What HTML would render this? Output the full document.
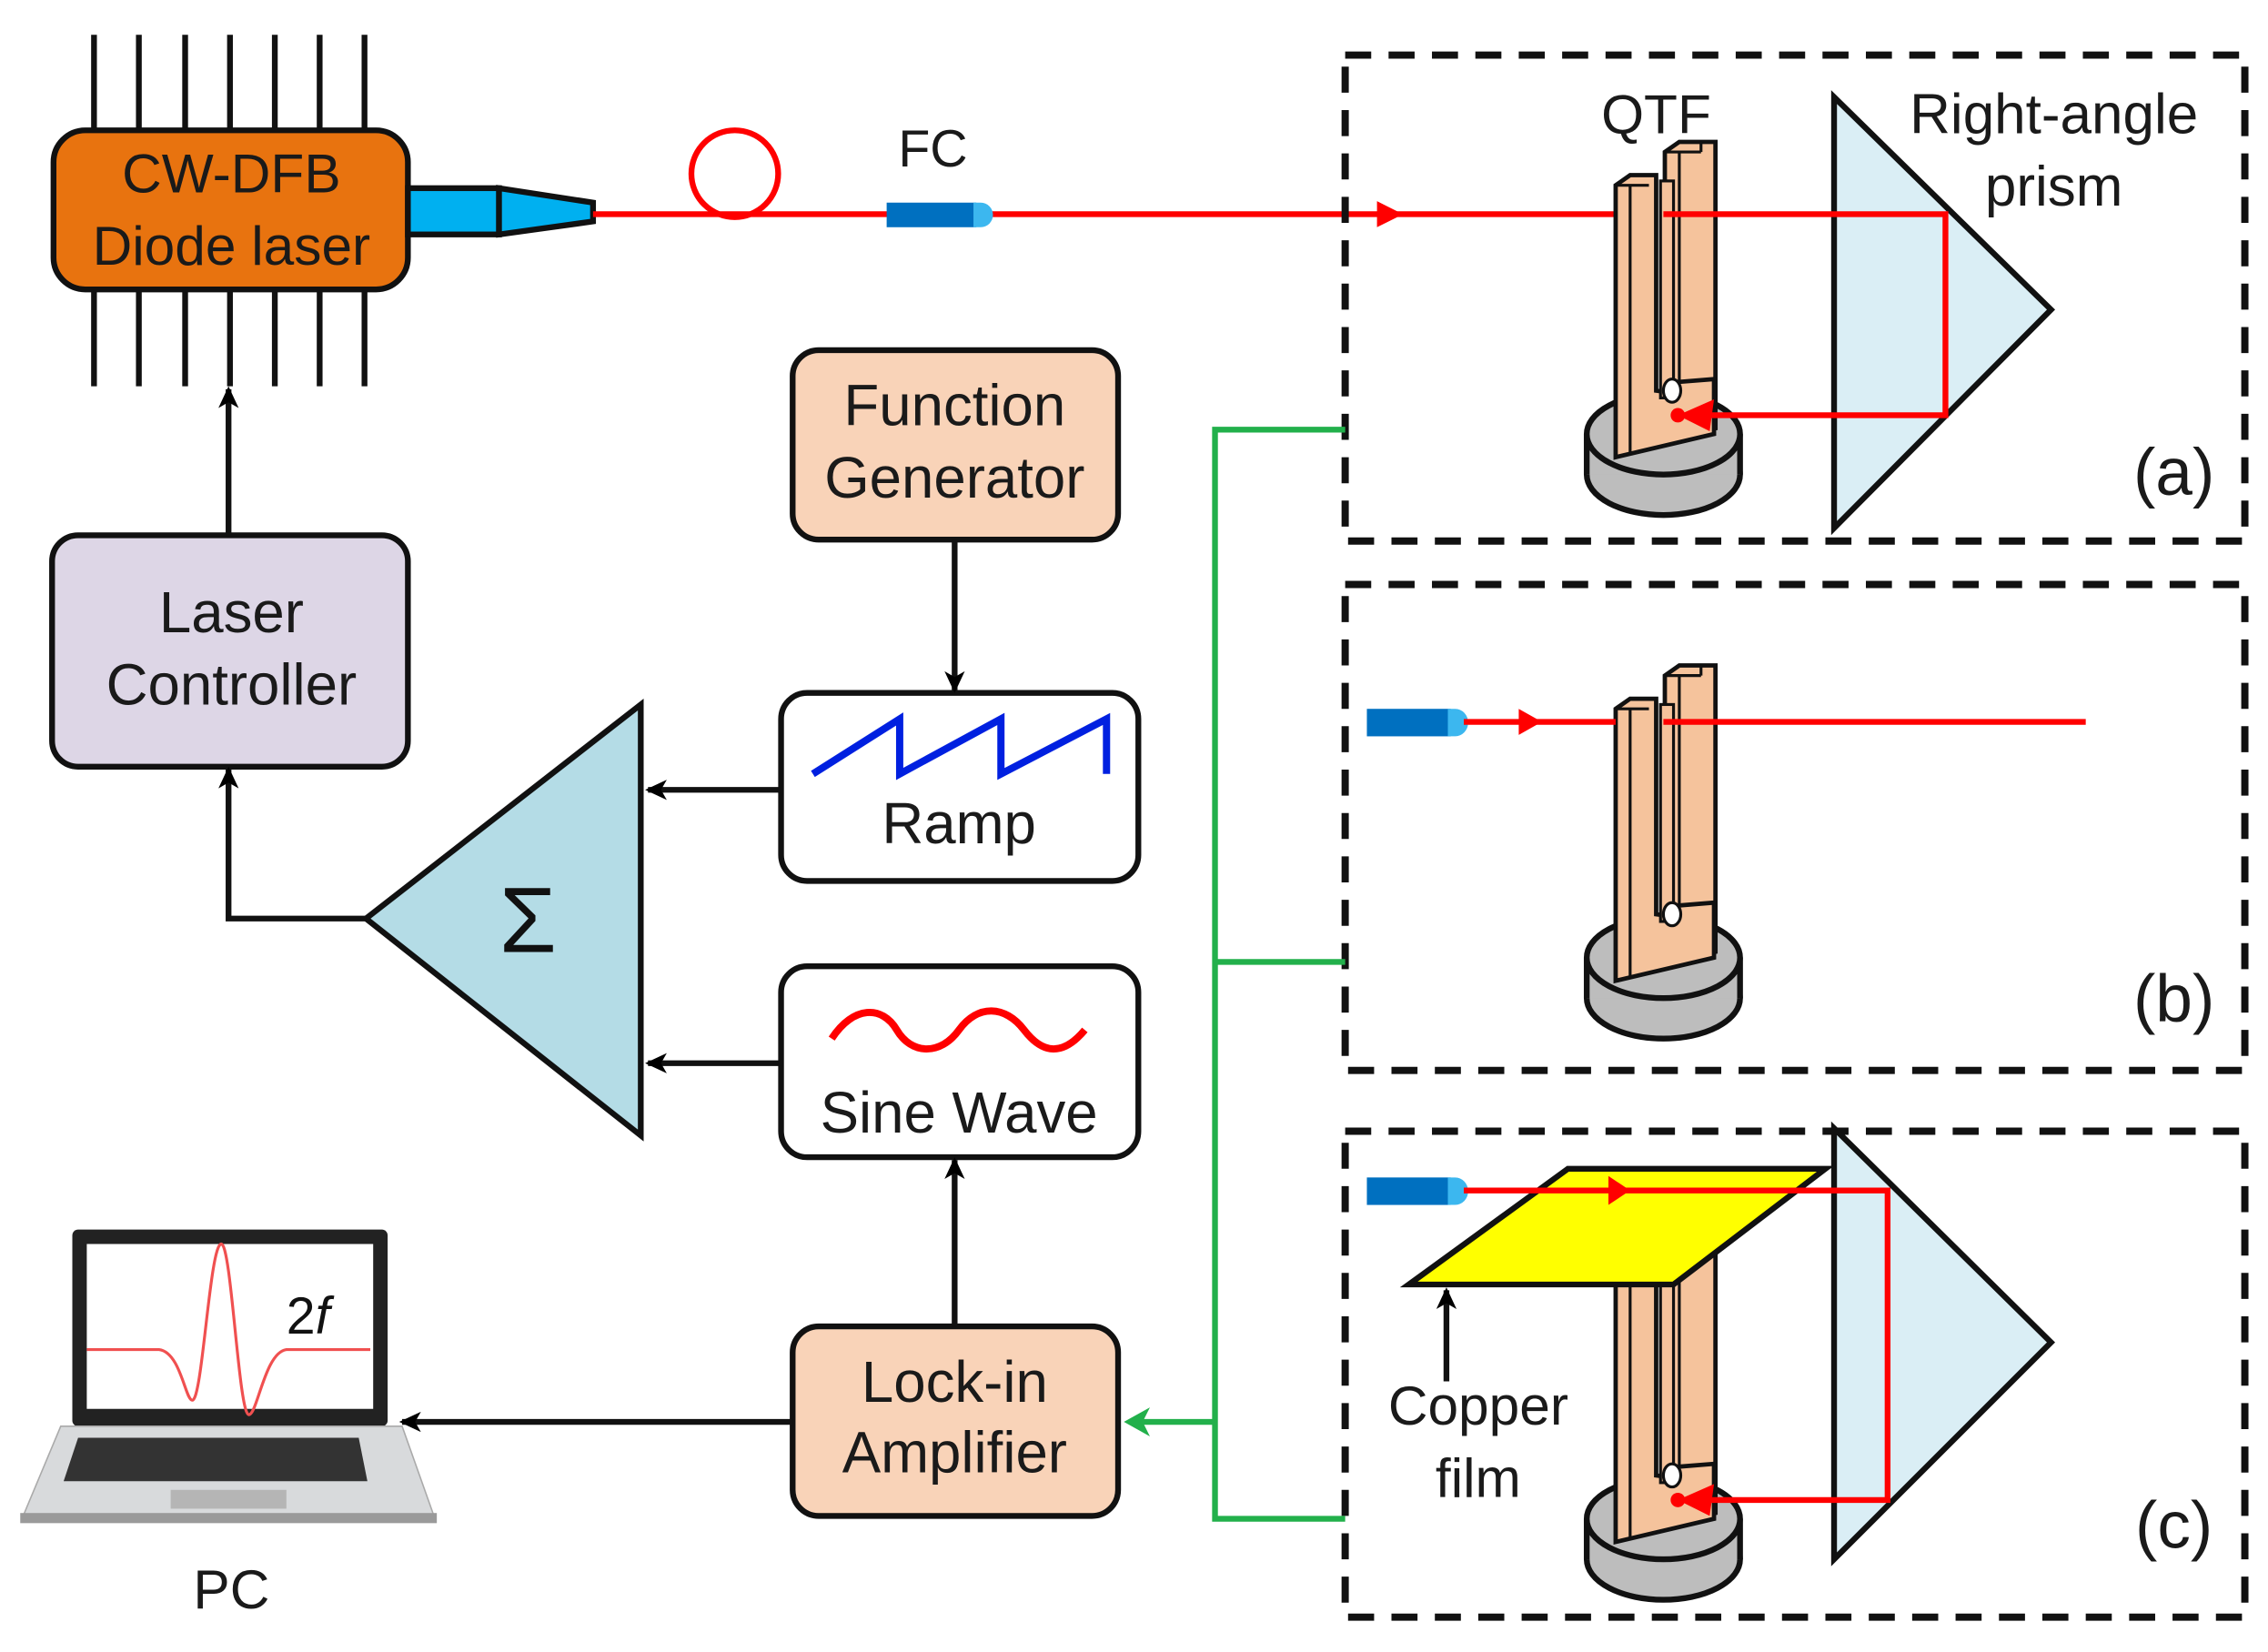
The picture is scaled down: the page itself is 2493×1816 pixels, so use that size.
<!DOCTYPE html>
<html><head><meta charset="utf-8"><style>html,body{margin:0;padding:0;background:#fff}svg{display:block}</style></head>
<body>
<svg width="2493" height="1816" viewBox="0 0 1568 1142" xmlns="http://www.w3.org/2000/svg" font-family="Liberation Sans, Arial, sans-serif">
<defs>
<marker id="ab" markerWidth="20" markerHeight="16" refX="13" refY="7" orient="auto" markerUnits="userSpaceOnUse"><path d="M0,0 L15,7 L0,14 L4,7z" fill="#000"/></marker>
<g id="qtf">
 <ellipse cx="1150" cy="328" rx="53" ry="28" fill="#bdbdbd" stroke="#111" stroke-width="4"/>
 <rect x="1097" y="300" width="106" height="28" fill="#bdbdbd"/>
 <line x1="1097" y1="300" x2="1097" y2="328" stroke="#111" stroke-width="4"/>
 <line x1="1203" y1="300" x2="1203" y2="328" stroke="#111" stroke-width="4"/>
 <ellipse cx="1150" cy="300" rx="53" ry="28" fill="#bdbdbd" stroke="#111" stroke-width="4"/>
 <path d="M1151,105 L1161,98 L1186,98 L1186,296 L1151,303z" fill="#f5c39c" stroke="#111" stroke-width="3"/>
 <line x1="1161" y1="105" x2="1161" y2="275" stroke="#111" stroke-width="2"/>
 <line x1="1151" y1="105" x2="1176" y2="105" stroke="#111" stroke-width="2"/>
 <line x1="1176" y1="98" x2="1176" y2="105" stroke="#111" stroke-width="2"/>
 <path d="M1117,128 L1127,121 L1145,121 L1145,270 L1160,272 L1160,264 L1185,262 L1185,300 L1117,316z" fill="#f5c39c" stroke="#111" stroke-width="3"/>
 <line x1="1127" y1="128" x2="1127" y2="313" stroke="#111" stroke-width="2"/>
 <line x1="1117" y1="128" x2="1140" y2="128" stroke="#111" stroke-width="2"/>
 <rect x="1148" y="125" width="9" height="150" fill="#f5c39c" stroke="#111" stroke-width="2"/>
 <ellipse cx="1156" cy="270" rx="6" ry="8" fill="#fff" stroke="#111" stroke-width="2"/>
</g>
</defs>

<!-- Laser -->
<g stroke="#111" stroke-width="4">
 <path d="M65,24V267M96,24V267M128,24V267M159,24V267M190,24V267M221,24V267M252,24V267"/>
 <rect x="37" y="90" width="245" height="110" rx="22" fill="#e8730f"/>
 <rect x="282" y="130" width="63" height="32" fill="#00b0f0"/>
 <path d="M345,130 L410,140 L410,153 L345,162z" fill="#00b0f0"/>
</g>
<text x="160" y="133" font-size="38" text-anchor="middle" fill="#1a1a1a">CW-DFB</text>
<text x="160" y="183" font-size="38" text-anchor="middle" fill="#1a1a1a">Diode laser</text>

<!-- fiber -->
<line x1="410" y1="148" x2="1117" y2="148" stroke="#f00" stroke-width="4"/>
<circle cx="508" cy="120" r="30" fill="none" stroke="#f00" stroke-width="4"/>
<rect x="613" y="140" width="62" height="17" fill="#0070c0"/>
<path d="M673,140 h5 a8,8 0 0 1 0,17 h-5z" fill="#3cb7ef"/>
<text x="645" y="115" font-size="36" text-anchor="middle" fill="#1a1a1a">FC</text>
<path d="M952,139 L970,148 L952,157z" fill="#f00"/>

<!-- panel a -->
<rect x="930" y="38" width="622" height="336" fill="none" stroke="#111" stroke-width="5" stroke-dasharray="18,12"/>
<path d="M1268,67 L1418,214 L1268,365z" fill="#daeef5" stroke="#111" stroke-width="4"/>
<use href="#qtf"/>
<path d="M1150,148 H1345 V287 H1175" fill="none" stroke="#f00" stroke-width="4"/>
<path d="M1160,287 L1185,276 L1182,298z" fill="#f00"/><circle cx="1160" cy="287" r="5" fill="#f00"/>
<text x="1145" y="92" font-size="38" text-anchor="middle" fill="#1a1a1a">QTF</text>
<text x="1420" y="92" font-size="39" text-anchor="middle" fill="#1a1a1a">Right-angle</text>
<text x="1420" y="142" font-size="39" text-anchor="middle" fill="#1a1a1a">prism</text>
<text x="1503" y="342" font-size="46" text-anchor="middle" fill="#1a1a1a">(a)</text>

<!-- panel b -->
<rect x="930" y="404" width="622" height="336" fill="none" stroke="#111" stroke-width="5" stroke-dasharray="18,12"/>
<use href="#qtf" transform="translate(0,362)"/>
<rect x="945" y="490" width="58" height="19" fill="#0070c0"/>
<path d="M1001,490 h5 a9,9.5 0 0 1 0,19 h-5z" fill="#3cb7ef"/>
<line x1="1012" y1="499" x2="1117" y2="499" stroke="#f00" stroke-width="4"/>
<line x1="1150" y1="499" x2="1442" y2="499" stroke="#f00" stroke-width="4"/>
<path d="M1050,490 L1066,499 L1050,508z" fill="#f00"/>
<text x="1503" y="706" font-size="46" text-anchor="middle" fill="#1a1a1a">(b)</text>

<!-- panel c -->
<rect x="930" y="782" width="622" height="336" fill="none" stroke="#111" stroke-width="5" stroke-dasharray="18,12"/>
<path d="M1268,780 L1418,928 L1268,1078z" fill="#daeef5" stroke="#111" stroke-width="4"/>
<use href="#qtf" transform="translate(0,750)"/>
<path d="M1084,808 L1262,808 L1157,888 L974,888z" fill="#ffff00" stroke="#111" stroke-width="4"/>
<rect x="945" y="814" width="58" height="19" fill="#0070c0"/>
<path d="M1001,814 h5 a9,9.5 0 0 1 0,19 h-5z" fill="#3cb7ef"/>
<path d="M1012,823 H1305 V1037 H1175" fill="none" stroke="#f00" stroke-width="4"/>
<path d="M1112,813 L1127,823 L1112,833z" fill="#f00"/>
<path d="M1160,1037 L1185,1026 L1182,1048z" fill="#f00"/><circle cx="1160" cy="1037" r="5" fill="#f00"/>
<line x1="1000" y1="955" x2="1000" y2="892" stroke="#111" stroke-width="4" marker-end="url(#ab)"/>
<text x="1022" y="985" font-size="38" text-anchor="middle" fill="#1a1a1a">Copper</text>
<text x="1022" y="1035" font-size="38" text-anchor="middle" fill="#1a1a1a">film</text>
<text x="1503" y="1070" font-size="46" text-anchor="middle" fill="#1a1a1a">(c)</text>

<!-- boxes -->
<g stroke="#111" stroke-width="4">
 <rect x="548" y="242" width="225" height="131" rx="18" fill="#f9d3b8"/>
 <rect x="540" y="479" width="247" height="130" rx="18" fill="#fff"/>
 <rect x="540" y="668" width="247" height="132" rx="18" fill="#fff"/>
 <rect x="548" y="917" width="225" height="131" rx="18" fill="#f9d3b8"/>
 <rect x="36" y="370" width="246" height="160" rx="18" fill="#ddd6e6"/>
 <path d="M253,635 L443,487 L443,785z" fill="#b4dce6"/>
</g>
<text x="660" y="294" font-size="40" text-anchor="middle" fill="#1a1a1a">Function</text>
<text x="660" y="344" font-size="40" text-anchor="middle" fill="#1a1a1a">Generator</text>
<path d="M562,535 L622,497 V535 L692,497 V535 L765,497 V535" fill="none" stroke="#0020e0" stroke-width="5"/>
<text x="663" y="583" font-size="40" text-anchor="middle" fill="#1a1a1a">Ramp</text>
<path d="M575,718 C590,695 610,695 620,712 S650,730 663,712 S695,695 708,712 S735,730 750,712" fill="none" stroke="#f00" stroke-width="5"/>
<text x="663" y="783" font-size="40" text-anchor="middle" fill="#1a1a1a">Sine Wave</text>
<text x="660" y="969" font-size="40" text-anchor="middle" fill="#1a1a1a">Lock-in</text>
<text x="660" y="1018" font-size="40" text-anchor="middle" fill="#1a1a1a">Amplifier</text>
<text x="160" y="437" font-size="40" text-anchor="middle" fill="#1a1a1a">Laser</text>
<text x="160" y="487" font-size="40" text-anchor="middle" fill="#1a1a1a">Controller</text>
<text x="365" y="658" font-size="64" text-anchor="middle" fill="#111">Σ</text>

<!-- arrows -->
<g stroke="#111" stroke-width="4" fill="none" marker-end="url(#ab)">
 <line x1="660" y1="373" x2="660" y2="477"/>
 <line x1="540" y1="546" x2="448" y2="546"/>
 <line x1="540" y1="735" x2="448" y2="735"/>
 <line x1="660" y1="917" x2="660" y2="802"/>
 <path d="M253,635 H158 V532"/>
 <line x1="158" y1="370" x2="158" y2="269"/>
 <line x1="548" y1="983" x2="278" y2="983"/>
</g>

<!-- green -->
<g stroke="#22b04b" stroke-width="4" fill="none">
 <path d="M930,297 H840 V1050 H930"/>
 <path d="M840,665 H930"/>
 <path d="M840,983 H790"/>
</g>
<path d="M777,983 L795,973 L790,983 L795,993z" fill="#22b04b"/>

<!-- laptop -->
<rect x="50" y="850" width="218" height="136" rx="4" fill="#222"/>
<rect x="60" y="860" width="198" height="114" fill="#fff"/>
<path d="M60,933 H110 C125,935 128,968 133,968 C140,968 145,860 153,860 C160,860 165,978 172,978 C178,978 183,935 198,933 H256" fill="none" stroke="#f05050" stroke-width="2"/>
<text x="213" y="922" font-size="36" text-anchor="middle" fill="#111"><tspan>2</tspan><tspan font-style="italic">f</tspan></text>
<path d="M42,986 H278 L300,1048 H16z" fill="#d8dadc" stroke="#aaa" stroke-width="1"/>
<rect x="14" y="1046" width="288" height="7" fill="#9a9a9a"/>
<path d="M54,994 H248 L254,1024 H44z" fill="#333"/>
<rect x="118" y="1030" width="80" height="13" fill="#b5b5b5"/>
<text x="160" y="1112" font-size="38" text-anchor="middle" fill="#1a1a1a">PC</text>
</svg>
</body></html>
